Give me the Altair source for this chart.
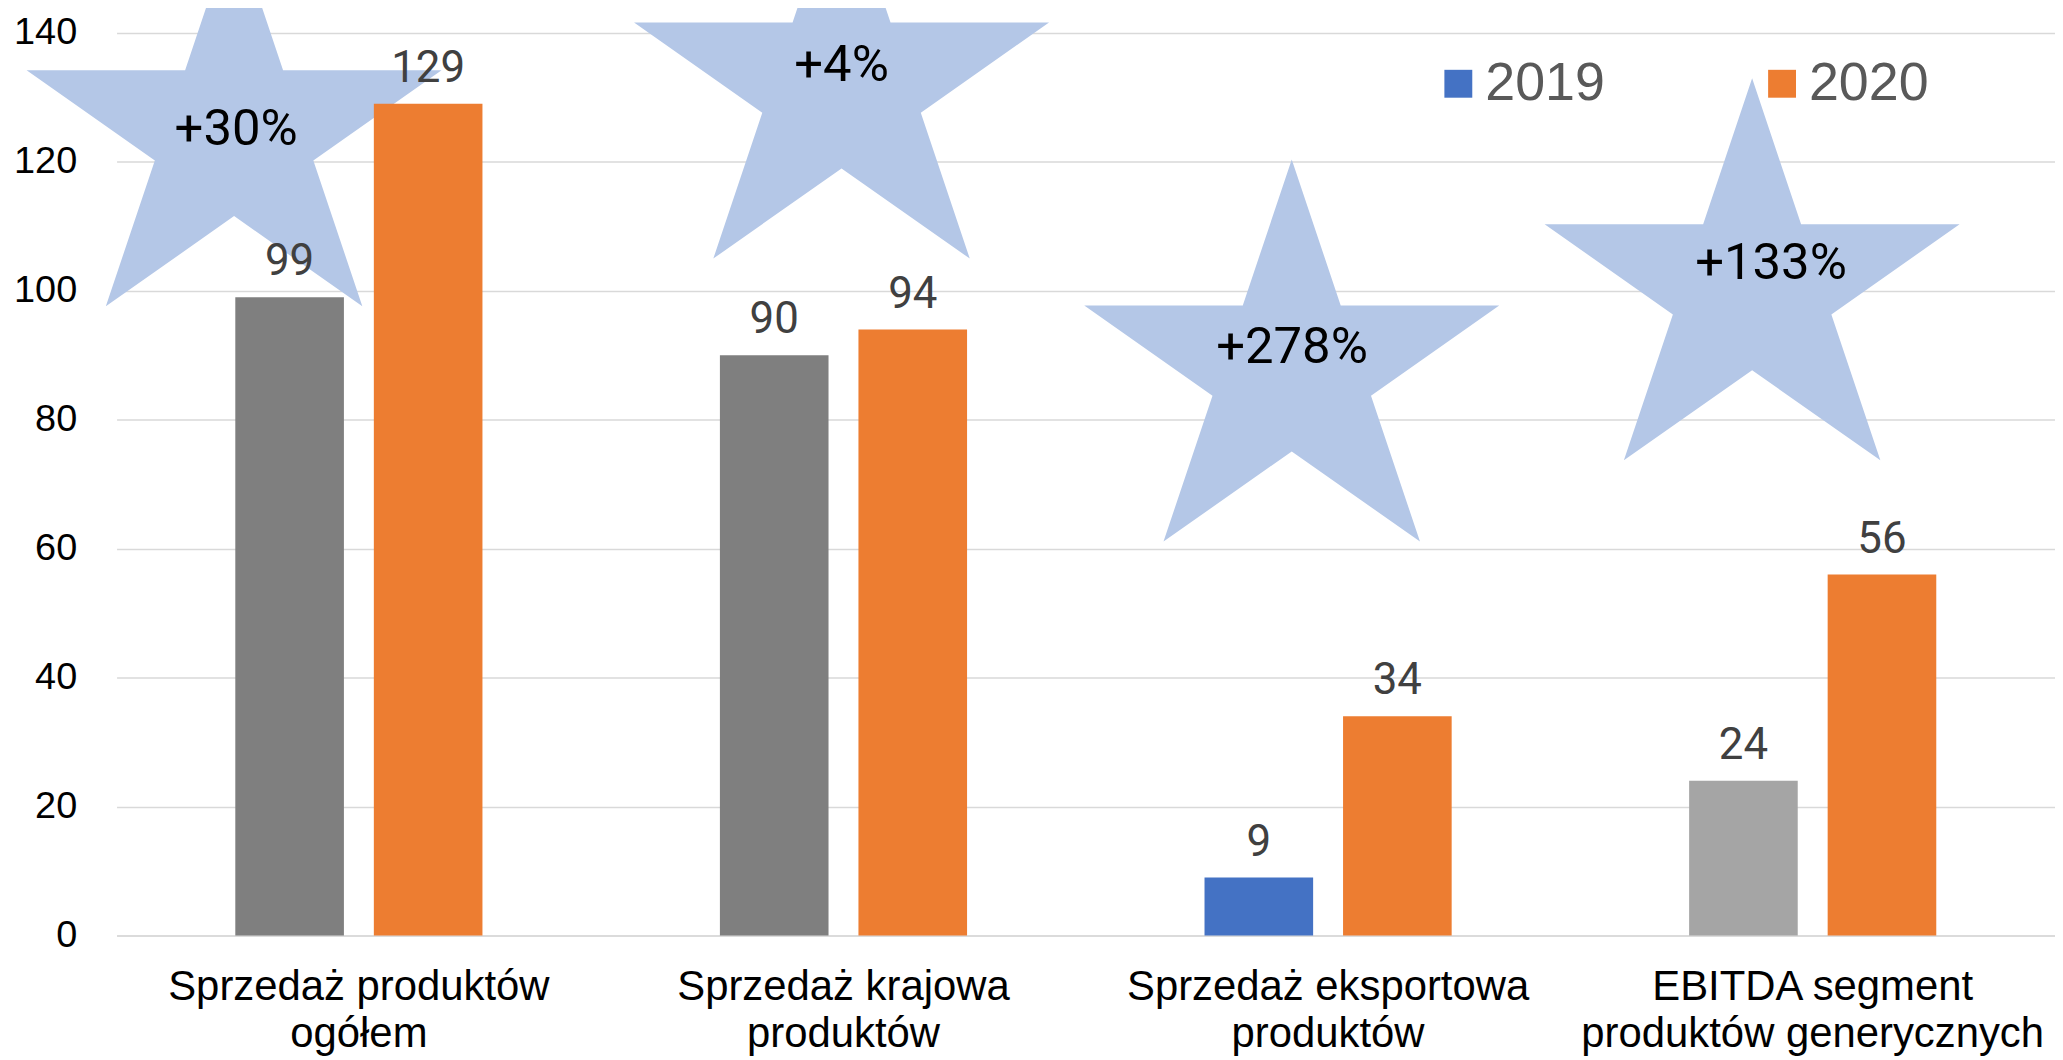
import math
import altair as alt
import pandas as pd

# ---------------- data ----------------
categories = [
    "Sprzedaż produktów\nogółem",
    "Sprzedaż krajowa\nproduktów",
    "Sprzedaż eksportowa\nproduktów",
    "EBITDA segment\nproduktów generycznych",
]
years = ["2019", "2020"]
values_2019 = [99, 90, 9, 24]
values_2020 = [129, 94, 34, 56]

growth_labels = ["+30%", "+4%", "+278%", "+133%"]
# star anchors: x along the category axis (0..4), y in value units
star_x = [0.2425, 1.496, 2.425, 3.375]
star_y = [124.1, 131.5, 87.6, 100.2]
growth_x = [0.2467, 1.496, 2.4255, 3.414]
growth_y = [125.0, 134.8, 91.1, 104.2]

# ---------------- styles ----------------
colour_key_2019 = ["2019_dark", "2019_dark", "2019", "2019_light"]
colour_domain = ["2019", "2020", "2019_dark", "2019_light"]
colour_range = ["#4472c4", "#ed7d31", "#7f7f7f", "#a5a5a5"]

rows = []
for i, c in enumerate(categories):
    rows.append({"category": c, "year": years[0], "value": values_2019[i], "key": colour_key_2019[i]})
    rows.append({"category": c, "year": years[1], "value": values_2020[i], "key": "2020"})
bars_df = pd.DataFrame(rows)
stars_df = pd.DataFrame({"sx": star_x, "sy": star_y})
growth_df = pd.DataFrame({"tx": growth_x, "ty": growth_y, "label": growth_labels})

# star glyph (unit path, slightly flattened)
ratio = 0.968
pts = []
for k in range(10):
    ang = math.radians(36 * k)
    rad = 1.0 if k % 2 == 0 else 0.382
    pts.append((rad * math.sin(ang), -rad * math.cos(ang) * ratio))
star_path = "M" + " L".join(f"{x:.4f},{y:.4f}" for x, y in pts) + " Z"

PLOT_W, PLOT_H = 1946, 906

y_scale = alt.Scale(domain=[0, 140], nice=False)
y_axis = alt.Axis(
    values=[0, 20, 40, 60, 80, 100, 120, 140],
    title=None,
    grid=True,
    gridColor="#d9d9d9",
    gridWidth=1.5,
    domain=False,
    ticks=False,
    labelPadding=40,
    labelFont="Liberation Sans",
    labelFontSize=38,
    labelColor="#000000",
)
x_scale = alt.Scale(domain=categories, paddingInner=0.49, paddingOuter=0.245)
xo_scale = alt.Scale(domain=years, paddingInner=0.216, paddingOuter=0)
q_scale = alt.Scale(domain=[0, 4], nice=False, zero=False)

stars = alt.Chart(stars_df).mark_point(
    shape=star_path, filled=True, size=191844, color="#b4c7e7", opacity=1, strokeWidth=0
).encode(
    x=alt.X("sx:Q", scale=q_scale, axis=None),
    y=alt.Y("sy:Q", scale=y_scale, axis=y_axis),
)

bars = alt.Chart(bars_df).mark_bar().encode(
    x=alt.X(
        "category:N",
        scale=x_scale,
        sort=categories,
        axis=alt.Axis(
            title=None,
            labelAngle=0,
            labelExpr="split(datum.label, '\\n')",
            labelFont="Liberation Sans",
            labelFontSize=42,
            labelLineHeight=48,
            labelColor="#000000",
            labelPadding=31,
            labelLimit=0,
            labelOverlap=False,
            labelBound=False,
            ticks=False,
            domain=True,
            domainColor="#d9d9d9",
            domainWidth=1.5,
        ),
    ),
    xOffset=alt.XOffset("year:N", scale=xo_scale),
    y=alt.Y("value:Q", scale=y_scale, axis=y_axis),
    color=alt.Color(
        "key:N",
        scale=alt.Scale(domain=colour_domain, range=colour_range),
        legend=alt.Legend(
            values=["2019", "2020"],
            orient="none",
            legendX=1320,
            legendY=24,
            direction="horizontal",
            title=None,
            symbolType="square",
            symbolSize=784,
            symbolStrokeWidth=0,
            symbolOpacity=1,
            labelFont="Liberation Sans",
            labelFontSize=54,
            labelColor="#595959",
            labelOffset=0,
            columnPadding=150,
            padding=0,
        ),
    ),
)

labels = alt.Chart(bars_df).mark_text(
    font="Roboto", fontSize=44, color="#404040", baseline="alphabetic", dy=-22
).encode(
    x=alt.X("category:N", scale=x_scale, sort=categories, axis=None),
    xOffset=alt.XOffset("year:N", scale=xo_scale),
    y=alt.Y("value:Q", scale=y_scale, axis=y_axis),
    text="value:Q",
)

growth = alt.Chart(growth_df).mark_text(
    font="Roboto", fontSize=51, color="#000000", baseline="middle", align="center"
).encode(
    x=alt.X("tx:Q", scale=q_scale, axis=None),
    y=alt.Y("ty:Q", scale=y_scale, axis=y_axis),
    text="label:N",
)

chart = (
    alt.layer(stars, bars, labels, growth)
    .resolve_scale(x="independent")
    .properties(
        width=PLOT_W,
        height=PLOT_H,
        padding={"left": 109, "top": 23, "right": 0, "bottom": 123},
        autosize=alt.AutoSizeParams(type="none"),
        background="white",
    )
    .configure_view(stroke=None)
)

chart.save("out.html", embed_options={"renderer": "svg", "actions": False})
